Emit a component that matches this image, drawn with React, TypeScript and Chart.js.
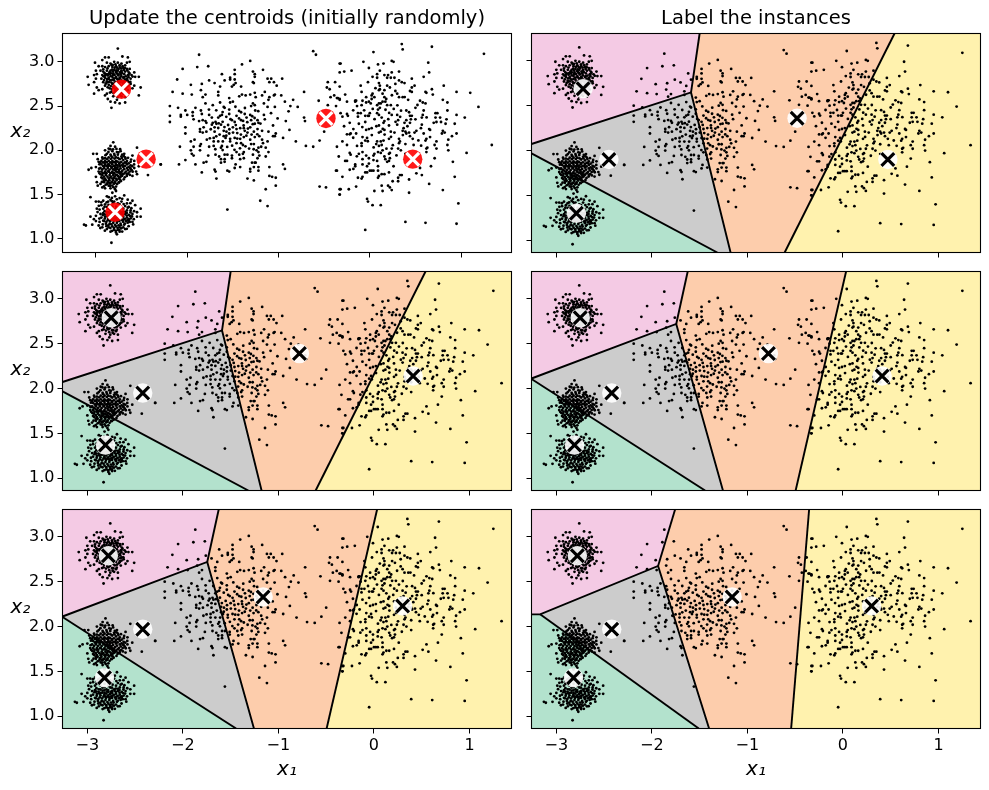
import React, { useEffect, useRef } from "react";
import { Chart, registerables } from "chart.js";

Chart.register(...registerables);

type P = number[];

const FONT = "'DejaVu Sans'";
const xTicks = [-3, -2, -1, 0, 1];
const yTicks = [1, 1.5, 2, 2.5, 3];
const titleLeft = "Update the centroids (initially randomly)";
const titleRight = "Label the instances";
const xAxisLabel = "x₁";
const yAxisLabel = "x₂";

// axis limits
const xL = -3.26, xR = 1.44, yB = 0.863, yT = 3.305;
const firstXLim = [-3.366, 1.552];
const firstYLim = [0.845, 3.32];

// centroids
const centroids1: P[] = [[-2.72, 2.69], [-2.45, 1.9], [-2.79, 1.3], [-0.48, 2.36], [0.47, 1.9]];
const centroids2: P[] = [[-2.75, 2.79], [-2.42, 1.95], [-2.81, 1.37], [-0.78, 2.39], [0.41, 2.14]];
const centroids3: P[] = [[-2.78, 2.79], [-2.42, 1.97], [-2.82, 1.43], [-1.16, 2.33], [0.3, 2.23]];

// decision regions, per iteration
const pink1: P[] = [[xL, yT], [-1.5, yT], [-1.59, 2.648], [xL, 2.073]];
const gray1: P[] = [[-1.59, 2.648], [-1.176, yB], [-1.315, yB], [xL, 1.969], [xL, 2.073]];
const green1: P[] = [[xL, 1.969], [-1.315, yB], [xL, yB]];
const orange1: P[] = [[-1.5, yT], [0.54, yT], [-0.61, yB], [-1.176, yB], [-1.59, 2.648]];
const yellow1: P[] = [[0.54, yT], [xR, yT], [xR, yB], [-0.61, yB]];
const edges1: P[][] = [[[-1.5, yT], [-1.59, 2.648]], [[xL, 2.073], [-1.59, 2.648], [-1.176, yB]], [[xL, 1.969], [-1.315, yB]], [[0.54, yT], [-0.61, yB]]];

const pink2: P[] = [[xL, yT], [-1.625, yT], [-1.745, 2.72], [xL, 2.112]];
const gray2: P[] = [[-1.745, 2.72], [-1.256, yB], [-1.443, yB], [xL, 2.106], [xL, 2.112]];
const green2: P[] = [[xL, 2.106], [-1.443, yB], [xL, yB]];
const orange2: P[] = [[-1.625, yT], [0.033, yT], [-0.495, yB], [-1.256, yB], [-1.745, 2.72]];
const yellow2: P[] = [[0.033, yT], [xR, yT], [xR, yB], [-0.495, yB]];
const edges2: P[][] = [[[-1.625, yT], [-1.745, 2.72]], [[xL, 2.112], [-1.745, 2.72], [-1.256, yB]], [[xL, 2.106], [-1.443, yB]], [[0.033, yT], [-0.495, yB]]];

const pink3: P[] = [[xL, yT], [-1.757, yT], [-1.935, 2.676], [-3.17, 2.136], [xL, 2.136]];
const gray3: P[] = [[-1.935, 2.676], [-1.401, yB], [-1.509, yB], [-3.17, 2.136]];
const green3: P[] = [[xL, 2.136], [-3.17, 2.136], [-1.509, yB], [xL, yB]];
const orange3: P[] = [[-1.757, yT], [-0.354, yT], [-0.542, yB], [-1.401, yB], [-1.935, 2.676]];
const yellow3: P[] = [[-0.354, yT], [xR, yT], [xR, yB], [-0.542, yB]];
const edges3: P[][] = [[[-1.757, yT], [-1.935, 2.676]], [[xL, 2.136], [-3.17, 2.136], [-1.935, 2.676], [-1.401, yB]], [[-3.17, 2.136], [-1.509, yB]], [[-0.354, yT], [-0.542, yB]]];

const regionColors = ["#f4cae4", "#cccccc", "#b3e2cd", "#fdcdac", "#fff2ae"];

// instances
const blobTop: P[] = [
[-2.76,3.15],[-2.71,3.06],[-3.01,2.99],[-2.9,3.05],[-2.86,3.05],[-2.93,3.02],[-2.65,3.05],[-2.63,3],[-2.66,2.99],[-2.93,2.95],[-2.97,2.95],[-2.95,2.9],[-2.99,2.86],[-3,2.9],[-3.02,2.85],[-3.09,2.83],[-3,2.81],[-3.02,2.77],[-3.08,2.74],[-3.02,2.64],[-2.97,2.68],[-2.99,2.71],[-2.93,2.69],[-2.88,2.64],[-2.9,2.62],[-2.84,2.55],[-2.83,2.48],[-2.79,2.54],[-2.74,2.53],[-2.68,2.54],[-2.6,2.7],[-2.53,2.62],[-2.51,2.71],[-2.58,2.73],[-2.62,2.75],[-2.57,2.83],[-2.53,2.83],[-2.58,2.88],[-2.63,2.92],
[-2.88,2.99],[-2.84,2.98],[-2.8,3],[-2.76,2.99],[-2.72,2.98],[-2.68,2.96],[-2.9,2.94],[-2.86,2.95],[-2.82,2.94],[-2.78,2.95],[-2.74,2.94],[-2.7,2.93],[-2.66,2.92],[-2.92,2.89],[-2.88,2.9],[-2.84,2.9],[-2.8,2.91],[-2.76,2.9],[-2.72,2.9],[-2.68,2.89],[-2.64,2.88],[-2.93,2.85],[-2.89,2.86],[-2.85,2.86],[-2.81,2.87],[-2.77,2.87],[-2.73,2.86],[-2.69,2.86],[-2.65,2.85],[-2.61,2.85],[-2.94,2.81],[-2.9,2.82],[-2.86,2.82],[-2.82,2.83],[-2.78,2.83],[-2.74,2.82],[-2.7,2.82],[-2.66,2.81],[-2.62,2.81],[-2.92,2.77],[-2.88,2.78],[-2.84,2.79],[-2.8,2.79],[-2.76,2.78],[-2.72,2.79],[-2.68,2.78],[-2.64,2.77],[-2.9,2.73],[-2.86,2.74],[-2.82,2.75],[-2.78,2.75],[-2.74,2.74],[-2.7,2.74],[-2.66,2.73],[-2.85,2.7],[-2.81,2.71],[-2.77,2.71],[-2.73,2.7],[-2.69,2.69],[-2.65,2.68],[-2.83,2.66],[-2.78,2.66],[-2.74,2.65],[-2.7,2.64],[-2.81,2.61],[-2.76,2.6],[-2.72,2.61],[-2.68,2.6],[-2.87,2.58],[-2.77,2.57]
];
const blobTopDense: P[] = [
[-2.83,2.965],[-2.787,2.972],[-2.741,2.961],[-2.873,2.925],[-2.795,2.933],[-2.752,2.918],[-2.708,2.951],[-2.851,2.883],[-2.814,2.892],[-2.781,2.884],[-2.737,2.879],[-2.693,2.908],[-2.655,2.902],[-2.905,2.871],[-2.872,2.846],[-2.838,2.871],[-2.796,2.852],[-2.754,2.848],[-2.713,2.873],[-2.674,2.836],[-2.632,2.868],[-2.917,2.836],[-2.877,2.805],[-2.839,2.838],[-2.802,2.812],[-2.763,2.804],[-2.722,2.837],[-2.683,2.801],[-2.643,2.826],[-2.598,2.833],[-2.911,2.794],[-2.858,2.771],[-2.82,2.798],[-2.786,2.768],[-2.748,2.796],[-2.708,2.763],[-2.655,2.793],[-2.623,2.772],[-2.893,2.752],[-2.838,2.726],[-2.796,2.733],[-2.752,2.762],[-2.725,2.722],[-2.682,2.752],[-2.642,2.735],[-2.871,2.712],[-2.826,2.688],[-2.787,2.692],[-2.755,2.714],[-2.713,2.683],[-2.671,2.705],[-2.805,2.646],[-2.762,2.674],[-2.728,2.651],[-2.846,2.652],[-2.692,2.656],[-2.771,2.628],[-2.735,2.622],[-2.92,2.915],[-2.816,2.965],[-2.768,2.933],[-2.725,2.925],[-2.683,2.93],[-2.645,2.848],[-2.694,2.828],[-2.735,2.812],[-2.778,2.818],[-2.815,2.852],[-2.855,2.802],[-2.83,2.765],[-2.775,2.74],[-2.735,2.772],[-2.692,2.78],[-2.655,2.762],[-2.802,2.754],[-2.762,2.862],[-2.722,2.892],[-2.776,2.904],[-2.824,2.912],[-2.866,2.862],[-2.9,2.845],[-2.88,2.765],[-2.812,2.716],[-2.744,2.7],[-2.7,2.722],[-2.79,2.672],[-2.66,2.72]
];
const blobMid: P[] = [
[-2.81,2.09],[-2.86,2.02],[-2.79,2.04],[-2.73,1.99],[-2.55,2.03],[-2.69,1.96],[-2.6,1.94],[-3.03,1.96],[-2.99,1.96],[-2.93,1.92],[-2.9,2],[-2.97,1.87],[-3,1.81],[-3.08,1.78],[-3.05,1.8],[-2.97,1.76],[-3,1.7],[-2.99,1.64],[-2.95,1.62],[-2.98,1.6],[-2.93,1.58],[-2.9,1.57],[-2.79,1.56],[-2.75,1.64],[-2.66,1.73],[-2.6,1.71],[-2.55,1.73],[-2.53,1.82],[-2.58,1.88],[-2.43,1.72],[-2.29,1.84],
[-2.84,2.05],[-2.77,1.98],[-2.82,1.99],[-2.88,1.96],[-2.84,1.95],[-2.8,1.96],[-2.76,1.95],[-2.72,1.93],[-2.68,1.92],[-2.9,1.91],[-2.86,1.92],[-2.82,1.92],[-2.78,1.92],[-2.74,1.9],[-2.7,1.89],[-2.66,1.88],[-2.62,1.87],[-2.94,1.88],[-2.9,1.88],[-2.86,1.88],[-2.82,1.88],[-2.78,1.88],[-2.74,1.86],[-2.7,1.85],[-2.66,1.84],[-2.62,1.83],[-2.94,1.84],[-2.9,1.84],[-2.86,1.84],[-2.82,1.84],[-2.78,1.84],[-2.74,1.82],[-2.7,1.81],[-2.66,1.8],[-2.62,1.79],[-2.95,1.8],[-2.91,1.8],[-2.87,1.8],[-2.83,1.8],[-2.79,1.8],[-2.75,1.78],[-2.71,1.77],[-2.67,1.76],[-2.63,1.76],[-2.94,1.76],[-2.9,1.76],[-2.86,1.76],[-2.82,1.76],[-2.78,1.76],[-2.74,1.74],[-2.7,1.73],[-2.93,1.72],[-2.89,1.72],[-2.85,1.72],[-2.81,1.72],[-2.77,1.72],[-2.73,1.7],[-2.9,1.68],[-2.86,1.68],[-2.82,1.68],[-2.78,1.68],[-2.75,1.68],[-2.91,1.64],[-2.87,1.64],[-2.83,1.64],[-2.79,1.63],[-2.86,1.6],[-2.82,1.6],[-2.78,1.59],[-2.84,1.57],[-2.96,1.74],[-2.98,1.9],[-2.58,1.8],[-2.56,1.76]
];
const blobMidDense: P[] = [
[-2.812,2.011],[-2.754,1.975],[-2.863,1.981],[-2.795,1.942],[-2.833,1.937],[-2.712,1.952],[-2.877,1.902],[-2.837,1.904],[-2.796,1.906],[-2.757,1.913],[-2.716,1.912],[-2.675,1.905],[-2.922,1.862],[-2.881,1.865],[-2.842,1.862],[-2.803,1.866],[-2.763,1.872],[-2.722,1.868],[-2.682,1.862],[-2.641,1.853],[-2.921,1.822],[-2.882,1.823],[-2.844,1.824],[-2.802,1.822],[-2.764,1.83],[-2.722,1.83],[-2.683,1.823],[-2.641,1.812],[-2.603,1.82],[-2.93,1.783],[-2.89,1.782],[-2.85,1.782],[-2.81,1.783],[-2.77,1.79],[-2.73,1.795],[-2.69,1.787],[-2.65,1.778],[-2.608,1.775],[-2.925,1.742],[-2.885,1.742],[-2.843,1.743],[-2.802,1.742],[-2.762,1.752],[-2.722,1.752],[-2.683,1.746],[-2.645,1.738],[-2.912,1.702],[-2.873,1.702],[-2.833,1.703],[-2.795,1.703],[-2.756,1.708],[-2.715,1.71],[-2.684,1.695],[-2.892,1.662],[-2.852,1.662],[-2.812,1.662],[-2.772,1.665],[-2.735,1.668],[-2.875,1.622],[-2.842,1.623],[-2.803,1.622],[-2.767,1.618],[-2.846,1.596],[-2.808,1.582],[-2.94,1.694],[-2.965,1.792],[-2.962,1.842],[-2.785,1.826],[-2.826,1.86],[-2.745,1.848],[-2.864,1.842],[-2.905,1.862],[-2.788,1.775],[-2.825,1.745],[-2.745,1.762],[-2.705,1.828],[-2.668,1.86],[-2.625,1.8],[-2.866,1.762],[-2.902,1.742],[-2.765,1.808],[-2.826,1.812],[-2.866,1.822],[-2.784,1.725],[-2.845,1.692],[-2.804,1.685],[-2.745,1.69],[-2.912,1.66],[-2.788,1.645],[-2.82,1.64],[-2.85,1.63],
[-2.925,1.905],[-2.952,1.862],[-2.905,1.822],[-2.948,1.728],[-2.928,1.682],[-2.935,1.642],[-2.892,1.612],[-2.912,1.592],[-2.725,1.652],[-2.695,1.672],[-2.712,1.728],[-2.662,1.71],[-2.628,1.722],[-2.598,1.758],[-2.582,1.84],[-2.615,1.895],[-2.648,1.915],[-2.695,1.935],[-2.735,2.012],[-2.775,2.015],[-2.842,2.012],[-2.895,1.945],[-2.785,1.858],[-2.728,1.725],[-2.866,1.648],[-2.746,1.636]
];
const blobLow: P[] = [
[-2.78,1.54],[-2.82,1.52],[-2.69,1.49],[-3.06,1.47],[-3,1.42],[-2.97,1.42],[-2.88,1.48],[-2.6,1.43],[-2.57,1.38],[-2.51,1.34],[-2.55,1.25],[-2.51,1.25],[-3.06,1.25],[-3.13,1.16],[-3.11,1.15],[-3.04,1.16],[-2.97,1.15],[-2.93,1.13],[-2.88,1.11],[-2.83,0.955],[-2.77,1.05],[-2.74,1.08],[-2.68,1.11],[-2.6,1.19],[-2.55,1.3],[-2.99,1.34],[-2.95,1.28],[-3,1.26],
[-2.86,1.47],[-2.79,1.48],[-2.74,1.46],[-2.92,1.43],[-2.84,1.44],[-2.72,1.42],[-2.66,1.4],[-2.94,1.38],[-2.9,1.39],[-2.68,1.37],[-2.64,1.36],[-2.96,1.33],[-2.92,1.34],[-2.88,1.36],[-2.8,1.42],[-2.76,1.4],[-2.7,1.34],[-2.66,1.32],[-2.62,1.32],[-2.92,1.29],[-2.88,1.3],[-2.84,1.32],[-2.8,1.3],[-2.76,1.32],[-2.72,1.3],[-2.68,1.28],[-2.64,1.27],[-2.6,1.28],[-2.94,1.24],[-2.9,1.25],[-2.86,1.26],[-2.82,1.26],[-2.78,1.27],[-2.74,1.26],[-2.7,1.25],[-2.66,1.24],[-2.62,1.23],[-2.91,1.2],[-2.87,1.21],[-2.83,1.22],[-2.79,1.22],[-2.75,1.22],[-2.71,1.21],[-2.67,1.2],[-2.63,1.19],[-2.89,1.17],[-2.85,1.17],[-2.81,1.18],[-2.77,1.18],[-2.73,1.17],[-2.69,1.16],[-2.86,1.13],[-2.82,1.14],[-2.78,1.14],[-2.74,1.13],[-2.8,1.1],[-2.76,1.1],[-2.7,1.13],[-2.96,1.19],[-3,1.2],[-2.84,1.08],[-2.78,1.07]
];
const blobLowDense: P[] = [
[-2.825,1.462],[-2.771,1.446],[-2.866,1.421],[-2.812,1.402],[-2.742,1.392],[-2.696,1.392],[-2.862,1.383],[-2.82,1.362],[-2.778,1.362],[-2.736,1.352],[-2.905,1.362],[-2.862,1.342],[-2.822,1.322],[-2.782,1.336],[-2.742,1.318],[-2.702,1.308],[-2.663,1.292],[-2.622,1.298],[-2.905,1.312],[-2.862,1.298],[-2.822,1.288],[-2.782,1.292],[-2.742,1.282],[-2.702,1.272],[-2.663,1.262],[-2.625,1.258],[-2.925,1.268],[-2.882,1.272],[-2.842,1.262],[-2.802,1.252],[-2.762,1.246],[-2.722,1.238],[-2.682,1.226],[-2.642,1.222],[-2.902,1.228],[-2.862,1.232],[-2.822,1.238],[-2.782,1.232],[-2.742,1.204],[-2.702,1.192],[-2.652,1.182],[-2.885,1.192],[-2.845,1.198],[-2.805,1.204],[-2.765,1.198],[-2.725,1.152],[-2.682,1.172],[-2.865,1.152],[-2.83,1.162],[-2.79,1.158],[-2.752,1.152],[-2.842,1.122],[-2.802,1.122],[-2.762,1.122],[-2.722,1.118],[-2.822,1.09],[-2.782,1.09],[-2.742,1.098],[-2.885,1.142],[-2.925,1.162],[-2.962,1.228],[-2.605,1.252],[-2.585,1.222],[-2.612,1.345],[-2.64,1.205],[-2.68,1.305],[-2.92,1.205],[-2.875,1.252],[-2.795,1.275],[-2.755,1.272],[-2.715,1.282],[-2.84,1.286],[-2.905,1.275],[-2.815,1.222],[-2.775,1.212],[-2.735,1.228],[-2.695,1.218],[-2.655,1.21],
[-2.942,1.412],[-2.968,1.372],[-2.982,1.302],[-2.882,1.412],[-2.712,1.452],[-2.652,1.442],[-2.622,1.402],[-2.582,1.312],[-2.652,1.352],[-2.592,1.162],[-2.642,1.142],[-2.662,1.112],[-2.712,1.082],[-2.902,1.092],[-2.952,1.122],[-3.022,1.222],[-2.825,1.425]
];
const blobWideLeft: P[] = [
[-1.87,3.08],[-2.05,2.92],[-1.89,2.94],[-1.77,2.95],[-2.11,2.8],[-2.16,2.66],[-2.05,2.64],[-1.96,2.74],[-1.95,2.63],[-1.84,2.75],[-1.85,2.68],[-1.83,2.6],[-1.8,2.63],[-1.76,2.79],[-1.7,2.76],[-1.64,2.72],[-1.66,2.66],[-1.66,2.62],[-1.62,2.86],[-1.59,2.79],[-1.53,2.82],[-1.53,2.8],[-1.48,2.8],[-1.47,2.76],[-1.49,2.74],[-1.51,2.72],[-1.48,2.91],[-1.48,2.86],[-1.4,2.97],[-1.31,3.01],[-1.41,2.72],[-1.28,2.89],[-1.26,2.86],[-1.26,2.83],[-1.17,2.91],[-1.28,2.77],[-1.27,2.76],[-1.12,2.81],[-1.08,2.81],[-1.1,2.77],[-1.05,2.77],[-1.02,2.73],[-0.96,2.81],
[-2.29,1.84],[-2.09,1.84],[-1.56,1.33],[-1.2,1.43],[-1.12,1.37],[-1.14,1.56],[-1.03,1.6],[-1.03,1.69],[-1.1,1.71],[-1.07,1.7],[-1.34,1.68],[-1.27,1.66],[-1.68,1.68],[-0.95,1.84],[-0.93,1.79],[-0.81,2.1],[-0.95,2.14],[-0.88,2.23],[-0.92,2.33],[-1.01,2.36],[-0.79,2.49],[-0.87,2.5],[-0.89,2.44],[-0.93,2.55],[-0.84,2.57],[-0.72,2.37],[-0.71,2.33],[-0.7,2.05],[-0.62,2.04],[-0.55,2.11],[-0.5,2.21],[-0.72,2.66],
[-1.8,2.53],[-1.72,2.51],[-1.64,2.54],[-1.54,2.59],[-1.6,2.49],[-1.53,2.54],[-1.5,2.55],[-1.43,2.61],[-1.4,2.63],[-1.36,2.62],[-1.31,2.63],[-1.26,2.65],[-1.25,2.6],[-1.28,2.53],[-1.26,2.51],[-1.3,2.5],[-1.16,2.53],[-1.12,2.49],[-1.1,2.6],[-1.05,2.62],[-1.04,2.63],[-1.11,2.57],[-0.97,2.62],[-1.04,2.49],[-1.18,2.62],[-1.15,2.66],
[-2.19,2.5],[-2.19,2.39],[-2.19,2.32],[-2.1,2.48],[-2.07,2.4],[-2.07,2.38],[-2.02,2.45],[-2,2.4],[-1.94,2.43],[-1.94,2.39],[-1.91,2.48],[-1.93,2.35],[-1.85,2.45],[-1.84,2.41],[-1.87,2.33],[-1.83,2.34],[-1.8,2.33],[-1.76,2.4],[-1.79,2.31],[-1.73,2.37],[-1.72,2.31],[-1.66,2.37],[-1.64,2.39],[-1.69,2.32],[-1.62,2.4],[-1.59,2.48],[-1.54,2.46],[-1.54,2.41],[-1.51,2.34],[-1.48,2.32],[-1.46,2.39],[-1.41,2.43],[-1.41,2.34],[-1.37,2.41],[-1.35,2.37],[-1.31,2.4],[-1.3,2.34],[-1.26,2.3],[-1.23,2.34],[-1.16,2.4],[-1.15,2.35],[-1.22,2.31],
[-2.02,2.26],[-2.02,2.19],[-1.86,2.24],[-1.82,2.26],[-1.86,2.21],[-1.83,2.2],[-1.79,2.21],[-1.73,2.29],[-1.7,2.26],[-1.68,2.3],[-1.7,2.21],[-1.63,2.29],[-1.6,2.22],[-1.57,2.21],[-1.54,2.19],[-1.5,2.26],[-1.46,2.24],[-1.42,2.25],[-1.38,2.25],[-1.37,2.22],[-1.34,2.2],[-1.31,2.26],[-1.27,2.21],[-1.23,2.24],[-1.18,2.22],[-1.21,2.16],[-1.06,2.28],[-1.11,2.21],[-1.06,2.16],[-1.04,2.16],[-1.03,2.19],[-1.71,2.14],[-1.6,2.16],[-1.58,2.14],[-1.53,2.13],[-1.48,2.14],[-1.42,2.13],[-1.38,2.15],[-1.31,2.12],[-1.26,2.15],
[-2.08,2.04],[-1.96,2.1],[-1.92,2.12],[-1.85,2.07],[-1.86,2.05],[-1.93,2.04],[-1.96,2],[-1.95,1.96],[-1.93,1.94],[-2.02,1.89],[-1.86,2],[-1.76,2.04],[-1.71,2.1],[-1.66,2.1],[-1.71,2.05],[-1.61,2.1],[-1.62,2.05],[-1.63,2.03],[-1.53,2.1],[-1.46,2.08],[-1.41,2.08],[-1.39,2.06],[-1.3,2.07],[-1.27,2.07],[-1.22,2.03],[-1.19,2.04],[-1.24,2],[-1.22,1.98],[-1.17,2.08],[-1.12,2.1],[-1.14,2.03],[-1.11,1.98],[-1.14,1.93],[-1.21,1.94],[-1.23,1.91],[-1.77,1.94],[-1.69,1.95],[-1.65,1.93],[-1.63,1.9],[-1.59,1.95],[-1.59,1.9],[-1.56,1.95],[-1.51,1.94],[-1.46,1.98],[-1.43,1.95],[-1.39,1.96],[-1.38,1.98],[-1.28,1.95],
[-1.91,1.84],[-1.82,1.86],[-1.79,1.87],[-1.84,1.75],[-1.7,1.78],[-1.69,1.76],[-1.63,1.86],[-1.59,1.87],[-1.56,1.77],[-1.54,1.76],[-1.47,1.84],[-1.48,1.8],[-1.42,1.81],[-1.31,1.79],[-1.31,1.76],[-1.29,1.86],[-1.26,1.86],[-1.25,1.86],[-1.27,1.81],[-1.22,1.81],[-1.22,1.77],[-1.1,1.81],[-1.51,1.91],[-1.42,1.9],[-1.38,1.91],
[-1.612,2.432],[-1.572,2.378],[-1.526,2.352],[-1.552,2.286],[-1.468,2.285],[-1.432,2.36],[-1.388,2.332],[-1.382,2.28],[-1.342,2.318],[-1.288,2.385],[-1.262,2.365],[-1.335,2.245],[-1.282,2.295],[-1.612,2.322],[-1.66,2.252],[-1.742,2.238],[-1.592,2.262],[-1.538,2.238],[-1.498,2.2],[-1.572,2.165],[-1.452,2.195],[-1.412,2.178],[-1.352,2.165],[-1.295,2.178],[-1.232,2.18],[-1.645,2.178],[-1.682,2.158],[-1.508,2.052],[-1.452,2.132],[-1.322,2.02],[-1.612,2.002],[-1.562,2.038],[-1.482,2.005],[-1.422,2.022],[-1.362,2.045],[-1.272,2.012],[-1.692,2.012],[-1.752,2.135],[-1.785,2.12],[-1.655,2.305],[-1.198,2.302],[-1.18,2.12],[-1.432,2.445],[-1.472,2.492],[-1.368,2.478],[-1.255,2.45],[-1.222,2.442],[-1.082,2.42],[-1.762,2.46],[-1.682,2.452]
];
const blobWideRight: P[] = [
[-0.62,3.12],[-0.59,3.08],[-0.46,2.77],[-0.38,2.77],[-0.47,2.71],[-0.44,2.69],[-0.33,2.72],[-0.43,2.6],[-0.39,2.62],[-0.36,2.59],[-0.33,2.57],[-0.56,2.56],[-0.46,2.51],[-0.37,2.5],[-0.33,2.98],[-0.37,1.77],[-0.55,1.59],[-0.48,1.58],[-0.33,1.56],[-0.33,1.5],
[0.35,3.2],[0.36,3.14],[0.68,3.17],[0.04,3.11],[1.25,3.09],[-0.07,3],[-0.01,2.93],[0.09,2.97],[0.15,2.98],[0.24,3.01],[0.26,3],[0.64,2.99],[-0.32,2.98],[-0.33,2.88],[-0.28,2.89],[-0.2,2.9],[0.11,2.9],[0.08,2.86],[0.08,2.82],[0.03,2.83],[-0.02,2.77],[0.16,2.85],[0.2,2.85],[0.19,2.82],[0.23,2.82],[0.27,2.82],[0.24,2.88],[0.32,2.89],[0.65,2.88],[0.59,2.83],[0.46,2.81],[0.32,2.79],[0.35,2.77],[0.38,2.76],[-0.1,2.73],[-0.09,2.66],[0.1,2.76],[0.11,2.73],[0.11,2.69],[0.1,2.68],[0.16,2.68],[0.19,2.73],[0.22,2.71],[0.28,2.75],[0.28,2.67],[0.3,2.64],[0.32,2.6],[0.36,2.6],[0.42,2.57],[0.49,2.73],[0.46,2.71],[0.44,2.67],[0.46,2.66],[0.68,2.69],[0.69,2.63],[0.61,2.66],[0.62,2.65],[0.81,2.73],[0.8,2.57],[0.85,2.54],[0.95,2.66],[1.1,2.65],[1.19,2.49],[0.55,2.56],[0.58,2.54],[0.61,2.53],[0.5,2.48],
[-0.27,2.63],[-0.35,2.59],[-0.33,2.58],[-0.25,2.55],[-0.16,2.56],[-0.04,2.6],[0.03,2.64],[0.05,2.6],[0.14,2.64],[0.16,2.6],[0.18,2.58],[-0.01,2.55],[-0.08,2.56],[0.02,2.62],
[-0.14,2.5],[-0.09,2.51],[-0.16,2.55],[-0.15,2.56],[-0.04,2.54],[0.01,2.53],[0.02,2.58],[0.08,2.51],[0.1,2.53],[0.12,2.53],[0.14,2.55],[0.17,2.55],[0.19,2.51],[0.23,2.51],[0.11,2.48],[0.09,2.46],[0.3,2.4],[0.24,2.4],[0.4,2.45],[0.43,2.43],[0.44,2.39],[0.46,2.39],[0.45,2.35],[0.59,2.45],[0.58,2.4],[0.57,2.37],[0.72,2.42],[0.74,2.42],[0.72,2.37],[0.77,2.37],[0.78,2.32],[0.84,2.35],[0.85,2.45],[0.95,2.4],[1.04,2.37],[0.7,2.31],[0.73,2.32],[0.83,2.3],[0.93,2.3],[-0.32,2.42],[-0.25,2.41],[-0.24,2.39],[-0.3,2.38],[-0.13,2.42],[-0.13,2.38],[-0.1,2.42],[-0.05,2.39],[-0.02,2.39],[0,2.42],[-0.01,2.39],[0.08,2.42],[0.1,2.4],[0.13,2.37],[0.16,2.33],[0.15,2.31],[-0.22,2.31],[-0.05,2.32],[-0.12,2.3],[0.1,2.28],[0.21,2.28],[0.31,2.34],[0.3,2.29],[0.4,2.34],[0.38,2.31],[0.44,2.31],[0.5,2.35],[0.57,2.29],[0.56,2.25],
[0.37,2.25],[0.39,2.21],[0.36,2.22],[0.4,2.19],[0.43,2.2],[0.44,2.16],[0.49,2.2],[0.51,2.22],[0.59,2.19],[0.66,2.23],[0.65,2.24],[0.8,2.22],[0.82,2.2],[0.79,2.19],[0.9,2.16],[0.95,2.19],[0.27,2.2],[0.23,2.21],[0.16,2.23],[0.1,2.2],[0.12,2.21],[0.02,2.25],[-0.01,2.24],[-0.04,2.23],[-0.18,2.24],[-0.15,2.19],[-0.25,2.18],[-0.22,2.18],[-0.21,2.19],[-0.08,2.15],[-0.03,2.14],[-0.05,2.11],[-0.09,2.08],[-0.3,2.1],[0.08,2.1],[0.12,2.1],[0.15,2.11],[0.21,2.13],[0.32,2.13],[0.33,2.1],[0.39,2.07],[0.47,2.13],[0.48,2.06],[0.62,2.13],[0.61,2.11],[0.66,2.15],[0.73,2.1],[0.86,2.12],[0.85,2.06],[0.86,2],
[-0.36,2.04],[-0.25,2.06],[-0.22,1.97],[-0.21,1.95],[-0.14,2.05],[-0.09,2.05],[-0.08,1.98],[-0.04,1.94],[-0.08,1.9],[-0.12,1.96],[0.07,2.07],[0.1,2.05],[0.13,2.06],[0.05,1.96],[0.04,1.94],[0.09,1.98],[0.12,1.97],[0.14,2],[0.21,1.96],[0.24,2.02],[0.31,2.02],[0.34,2],[0.32,2.08],[0.39,1.96],[0.22,1.97],[0.17,1.9],[0.22,1.91],[0.16,1.93],[-0.34,1.93],[-0.27,1.88],[-0.25,1.88],[-0.01,1.91],[-0.16,1.84],[0.04,1.89],[0.08,1.88],[0.09,1.82],[0.19,1.87],[0.21,1.88],[0.26,1.82],[-0.08,1.84],[-0.01,1.85],[-0.03,1.82],[-0.22,1.78],[-0.18,1.79],[-0.16,1.82],[0,1.77],[0.02,1.77],[-0.05,1.75],[-0.03,1.75],[0.09,1.77],[0.04,1.77],[0.13,1.73],[0.16,1.73],[0.1,1.71],[0.09,1.69],[0.21,1.75],[0.31,1.69],[0.31,1.65],[0.25,1.65],[0.33,1.72],[0.35,1.72],[-0.36,1.77],[-0.3,1.7],[-0.13,1.69],[-0.09,1.68],[-0.08,1.7],[-0.32,1.56],[-0.23,1.56],[-0.33,1.5],[-0.15,1.59],[0.05,1.54],[0.13,1.6],[0.14,1.54],[0.2,1.6],[0.22,1.58],[0.24,1.55],[0.43,1.67],[0.43,1.52],[0.51,1.74],[0.57,1.72],[0.55,1.8],[0.67,1.82],[0.71,1.91],[0.91,1.87],[0.93,1.7],[0.65,1.62],[0.8,1.55],[0.97,1.4],[1.06,1.97],[1.336,2.06],[0.62,1.98],[0.63,2.03],[0.62,2.02],[0.73,2.02],[0.71,2.06],[-0.03,1.45],[-0.02,1.42],[0.03,1.38],[0.12,1.38],[0.39,1.19],[0.61,1.18],[0.95,1.17],[-0.05,1.1],
[0.032,2.468],[-0.062,2.452],[0.172,2.458],[0.212,2.422],[0.262,2.468],[0.332,2.378],[0.302,2.508],[0.342,2.448],[0.162,2.178],[0.232,2.152],[0.282,2.322],[0.052,2.352],[-0.082,2.262],[-0.182,2.142],[0.022,2.172],[0.252,2.058],[0.182,2.018],[0.042,2.032],[-0.022,2.102],[-0.142,1.932],[0.292,1.942],[0.362,2.172],[0.532,2.112],[0.622,2.372],[0.522,2.512],[0.382,2.602],[0.242,2.622],[0.062,2.702],[-0.182,2.452],[-0.282,2.272],[0.142,2.242],[0.202,2.352],[0.072,2.272],[0.562,2.052],[0.412,2.272]
];
const instances: P[] = [...blobTop, ...blobTopDense, ...blobMid, ...blobMidDense, ...blobLow, ...blobLowDense, ...blobWideLeft, ...blobWideRight];

const toXY = (a: P[]) => a.map(([x, y]) => ({ x, y }));
const closed = (a: P[]) => toXY([...a, a[0]]);

type Region = { polys: P[][]; edges: P[][] };
const iter1: Region = { polys: [pink1, gray1, green1, orange1, yellow1], edges: edges1 };
const iter2: Region = { polys: [pink2, gray2, green2, orange2, yellow2], edges: edges2 };
const iter3: Region = { polys: [pink3, gray3, green3, orange3, yellow3], edges: edges3 };

type PanelSpec = {
  left: number; top: number; w: number; h: number;
  pad: { left: number; right: number; top: number; bottom: number };
  yWidth: number; xHeight: number;
  centroids: P[]; region?: Region; title?: string;
  showX: boolean; showY: boolean; first?: boolean;
};

// canvases overlap a little: Chart.js keeps a minimum margin as large as the biggest marker
const col1 = { left: 0, w: 525, padLeft: 0.5, yWidth: 62 };
const col2 = { left: 515, w: 479, padLeft: 0, yWidth: 16.5 };
const rows = [
  { top: 0, h: 266, padTop: 0, xHeight: 13.5 },
  { top: 258, h: 246, padTop: 13.5, xHeight: 13.5 },
  { top: 496, h: 294, padTop: 13.5, xHeight: 61.5 },
];

const make = (c: typeof col1, r: (typeof rows)[0], centroids: P[], region: Region | undefined, extra: Partial<PanelSpec>): PanelSpec => ({
  left: c.left, top: r.top, w: c.w, h: r.h,
  pad: { left: c.padLeft, right: 13.5, top: r.padTop, bottom: 0 },
  yWidth: c.yWidth, xHeight: r.xHeight, centroids, region,
  showX: r === rows[2], showY: c === col1, ...extra,
});

const panels: PanelSpec[] = [
  make(col1, rows[0], centroids1, undefined, { title: titleLeft, first: true }),
  make(col2, rows[0], centroids1, iter1, { title: titleRight }),
  make(col1, rows[1], centroids2, iter1, {}),
  make(col2, rows[1], centroids2, iter2, {}),
  make(col1, rows[2], centroids3, iter2, {}),
  make(col2, rows[2], centroids3, iter3, {}),
];

const clearPadding = (a: any) => {
  a.paddingLeft = 0; a.paddingRight = 0; a.paddingTop = 0; a.paddingBottom = 0;
};

function buildConfig(p: PanelSpec): any {
  const circleColor = p.first ? "rgba(255,0,0,0.9)" : "rgba(255,255,255,0.9)";
  const crossColor = p.first ? "#ffffff" : "#000000";
  const datasets: any[] = [
    { data: toXY(p.centroids), showLine: false, pointStyle: "crossRot", pointRadius: 9, pointBorderWidth: 3.2, pointBorderColor: crossColor, pointBackgroundColor: crossColor },
    { data: toXY(p.centroids), showLine: false, pointStyle: "circle", pointRadius: 9.7, pointBorderWidth: 0, pointBackgroundColor: circleColor },
    { data: toXY(instances), showLine: false, pointStyle: "circle", pointRadius: 1.4, pointBorderWidth: 0, pointBackgroundColor: "#000000" },
  ];
  if (p.region) {
    p.region.edges.forEach((e) =>
      datasets.push({ data: toXY(e), showLine: true, fill: false, borderColor: "#000000", borderWidth: 1.9, pointRadius: 0, tension: 0 })
    );
    p.region.polys.forEach((poly, i) =>
      datasets.push({ data: closed(poly), showLine: true, fill: "shape", backgroundColor: regionColors[i], borderWidth: 0, borderColor: regionColors[i], pointRadius: 0, tension: 0 })
    );
  }
  const xLim = p.first ? firstXLim : [xL, xR];
  const yLim = p.first ? firstYLim : [yB, yT];
  const flatLabel = {
    id: "flatLabel",
    afterDraw(chart: any) {
      if (!p.showY) return;
      const ctx = chart.ctx;
      ctx.save();
      ctx.font = `italic 20px ${FONT}`;
      ctx.fillStyle = "#000";
      ctx.textBaseline = "alphabetic";
      ctx.textAlign = "left";
      ctx.fillText(yAxisLabel, 10.5, chart.chartArea.top + 103.5);
      ctx.restore();
    },
  };
  const frame = {
    id: "frame",
    afterDatasetsDraw(chart: any) {
      const { left, top, right, bottom } = chart.chartArea;
      const ctx = chart.ctx;
      ctx.save();
      ctx.strokeStyle = "#000";
      ctx.lineWidth = 1.1;
      ctx.strokeRect(left, top, right - left, bottom - top);
      ctx.restore();
    },
  };
  return {
    type: "scatter",
    data: { datasets },
    plugins: [frame, flatLabel],
    options: {
      responsive: false,
      animation: false,
      layout: { padding: p.pad },
      plugins: {
        legend: { display: false },
        tooltip: { enabled: false },
        title: p.title
          ? { display: true, text: p.title, fullSize: false, color: "#000", font: { family: FONT, size: 19.5, weight: "normal" }, padding: { top: 7, bottom: 3.1 } }
          : { display: false },
      },
      scales: {
        x: {
          type: "linear", min: xLim[0], max: xLim[1],
          afterBuildTicks: (a: any) => { a.ticks = xTicks.map((value) => ({ value })); },
          afterFit: (a: any) => { a.height = p.xHeight; clearPadding(a); },
          grid: { drawOnChartArea: false, drawTicks: true, tickLength: 5, color: "#000", lineWidth: 1 },
          border: { display: false },
          ticks: { display: p.showX, autoSkip: false, maxRotation: 0, color: "#000", padding: 3, font: { family: FONT, size: 16 }, callback: (v: number) => String(v).replace("-", "\u2212") },
          title: { display: p.showX, text: xAxisLabel, color: "#000", font: { family: FONT, size: 20, style: "italic" }, padding: { top: 4, bottom: 8 } },
        },
        y: {
          type: "linear", min: yLim[0], max: yLim[1],
          afterBuildTicks: (a: any) => { a.ticks = yTicks.map((value) => ({ value })); },
          afterFit: (a: any) => { a.width = p.yWidth; clearPadding(a); },
          grid: { drawOnChartArea: false, drawTicks: true, tickLength: 5, color: "#000", lineWidth: 1 },
          border: { display: false },
          ticks: { display: p.showY, autoSkip: false, color: "#000", padding: 3, font: { family: FONT, size: 16 }, callback: (v: number) => v.toFixed(1) },
        },
      },
    },
  };
}

function Panel({ spec }: { spec: PanelSpec }) {
  const ref = useRef<HTMLCanvasElement>(null);
  useEffect(() => {
    const chart = new Chart(ref.current as HTMLCanvasElement, buildConfig(spec));
    return () => chart.destroy();
  }, [spec]);
  return (
    <canvas
      ref={ref}
      width={spec.w}
      height={spec.h}
      style={{ position: "absolute", left: spec.left, top: spec.top, width: spec.w, height: spec.h, display: "block" }}
    />
  );
}

export default function App() {
  return (
    <div style={{ position: "absolute", left: 0, top: 0, width: 989, height: 790, background: "#fff", overflow: "hidden" }}>
      {panels.map((s, i) => (
        <Panel key={i} spec={s} />
      ))}
    </div>
  );
}
